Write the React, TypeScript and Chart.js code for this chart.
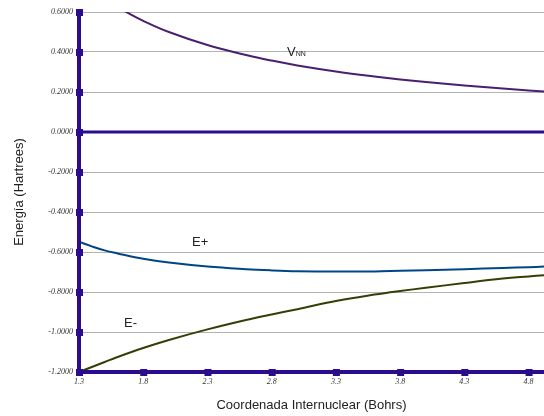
import React, { useEffect, useRef } from "react";
import { Chart, registerables } from "chart.js";
Chart.register(...registerables);

// Data
const rValues = [1.3, 1.4, 1.5, 1.6, 1.8, 2.0, 2.3, 2.6, 2.8, 3.0, 3.3, 3.6, 3.8, 4.0, 4.3, 4.6, 4.8, 4.92];
const ePlus = [-0.549, -0.572, -0.592, -0.607, -0.634, -0.653, -0.673, -0.686, -0.692, -0.696, -0.698, -0.697, -0.694, -0.691, -0.686, -0.68, -0.676, -0.673];
const eMinus = [-1.2, -1.175, -1.15, -1.125, -1.08, -1.04, -0.987, -0.94, -0.912, -0.886, -0.845, -0.813, -0.795, -0.779, -0.755, -0.733, -0.722, -0.716];
const vnnR = [1.65, 1.8, 2.0, 2.3, 2.6, 2.8, 3.0, 3.3, 3.6, 3.8, 4.0, 4.3, 4.6, 4.8, 4.92];
const vnnValues = [0.606, 0.556, 0.5, 0.435, 0.385, 0.357, 0.333, 0.303, 0.278, 0.263, 0.25, 0.233, 0.217, 0.208, 0.203];
const xTicks = [1.3, 1.8, 2.3, 2.8, 3.3, 3.8, 4.3, 4.8];
const yTicks = [0.6, 0.4, 0.2, 0, -0.2, -0.4, -0.6, -0.8, -1.0, -1.2];
const xTitle = "Coordenada Internuclear (Bohrs)";
const yTitle = "Energía (Hartrees)";
// Curve labels (data coordinates)
const curveLabels = [
  { text: "V", sub: "NN", x: 2.92, y: 0.3815 },
  { text: "E+", sub: "", x: 2.18, y: -0.57 },
  { text: "E-", sub: "", x: 1.65, y: -0.975 },
];

const AXIS_COLOR = "#2b0c8e";

const axesPlugin = {
  id: "axesPlugin",
  afterDatasetsDraw(chart: any) {
    const { ctx, chartArea, scales } = chart;
    const xs = scales.x;
    const ys = scales.y;
    ctx.save();
    ctx.strokeStyle = AXIS_COLOR;
    ctx.fillStyle = AXIS_COLOR;
    ctx.lineWidth = 4;
    ctx.beginPath();
    ctx.moveTo(chartArea.left, chartArea.top);
    ctx.lineTo(chartArea.left, chartArea.bottom);
    ctx.stroke();
    ctx.beginPath();
    ctx.moveTo(chartArea.left, chartArea.bottom);
    ctx.lineTo(chartArea.right, chartArea.bottom);
    ctx.stroke();
    ctx.lineWidth = 3;
    const y0 = ys.getPixelForValue(0);
    ctx.beginPath();
    ctx.moveTo(chartArea.left, y0);
    ctx.lineTo(chartArea.right, y0);
    ctx.stroke();
    yTicks.forEach((v) => {
      const py = ys.getPixelForValue(v);
      ctx.fillRect(chartArea.left - 3, py - 3, 7, 7);
    });
    xTicks.forEach((v) => {
      const px = xs.getPixelForValue(v);
      ctx.fillRect(px - 3, chartArea.bottom - 3, 7, 7);
    });
    ctx.fillStyle = "#222";
    ctx.textBaseline = "alphabetic";
    ctx.textAlign = "left";
    curveLabels.forEach((l) => {
      const px = xs.getPixelForValue(l.x);
      const py = ys.getPixelForValue(l.y);
      ctx.font = "13px 'Liberation Sans', Arial, sans-serif";
      ctx.fillText(l.text, px, py);
      if (l.sub) {
        const w = ctx.measureText(l.text).width;
        ctx.font = "7px 'Liberation Sans', Arial, sans-serif";
        ctx.fillText(l.sub, px + w, py);
      }
    });
    ctx.restore();
  },
};

export default function App() {
  const ref = useRef<HTMLCanvasElement | null>(null);
  useEffect(() => {
    document.body.style.margin = "0";
    const canvas = ref.current;
    if (!canvas) return;
    const chart = new Chart(canvas, {
      type: "line",
      data: {
        datasets: [
          {
            label: "VNN",
            data: vnnR.map((r, i) => ({ x: r, y: vnnValues[i] })),
            borderColor: "#4b1f6f",
            borderWidth: 2,
            pointRadius: 0,
            tension: 0.4,
          },
          {
            label: "E+",
            data: rValues.map((r, i) => ({ x: r, y: ePlus[i] })),
            borderColor: "#004586",
            borderWidth: 2,
            pointRadius: 0,
            tension: 0.4,
          },
          {
            label: "E-",
            data: rValues.map((r, i) => ({ x: r, y: eMinus[i] })),
            borderColor: "#314004",
            borderWidth: 2,
            pointRadius: 0,
            tension: 0.4,
          },
        ],
      },
      options: {
        animation: false,
        responsive: false,
        layout: { padding: { top: 12, right: 0, left: 0, bottom: 0 } },
        plugins: { legend: { display: false }, tooltip: { enabled: false } },
        scales: {
          x: {
            type: "linear",
            min: 1.3,
            max: 4.92,
            afterBuildTicks: (scale: any) => {
              scale.ticks = xTicks.map((v) => ({ value: v }));
            },
            afterFit: (scale: any) => {
              scale.height = 44;
            },
            grid: { display: false, drawTicks: false },
            border: { display: false },
            ticks: {
              padding: 5,
              autoSkip: false,
              maxRotation: 0,
              color: "#333",
              font: { family: "'Liberation Serif', serif", style: "italic", size: 8 },
              callback: (v: any) => String(Number(v).toFixed(1)),
            },
            title: {
              display: true,
              text: xTitle,
              color: "#222",
              font: { family: "'Liberation Sans', Arial, sans-serif", size: 13 },
              padding: { top: 0, bottom: 3 },
            },
          },
          y: {
            type: "linear",
            min: -1.2,
            max: 0.6,
            afterBuildTicks: (scale: any) => {
              scale.ticks = yTicks.map((v) => ({ value: v }));
            },
            afterFit: (scale: any) => {
              scale.width = 79;
            },
            grid: { color: "#b3b3b3", lineWidth: 1, drawTicks: false },
            border: { display: false },
            ticks: {
              padding: 6,
              color: "#333",
              font: { family: "'Liberation Serif', serif", style: "italic", size: 8 },
              callback: (v: any) => Number(v).toFixed(4),
            },
            title: {
              display: true,
              text: yTitle,
              color: "#222",
              font: { family: "'Liberation Sans', Arial, sans-serif", size: 13 },
              padding: { top: 12, bottom: 0 },
            },
          },
        },
      },
      plugins: [axesPlugin],
    });
    return () => chart.destroy();
  }, []);
  return <canvas ref={ref} width={544} height={416} style={{ display: "block" }} />;
}
